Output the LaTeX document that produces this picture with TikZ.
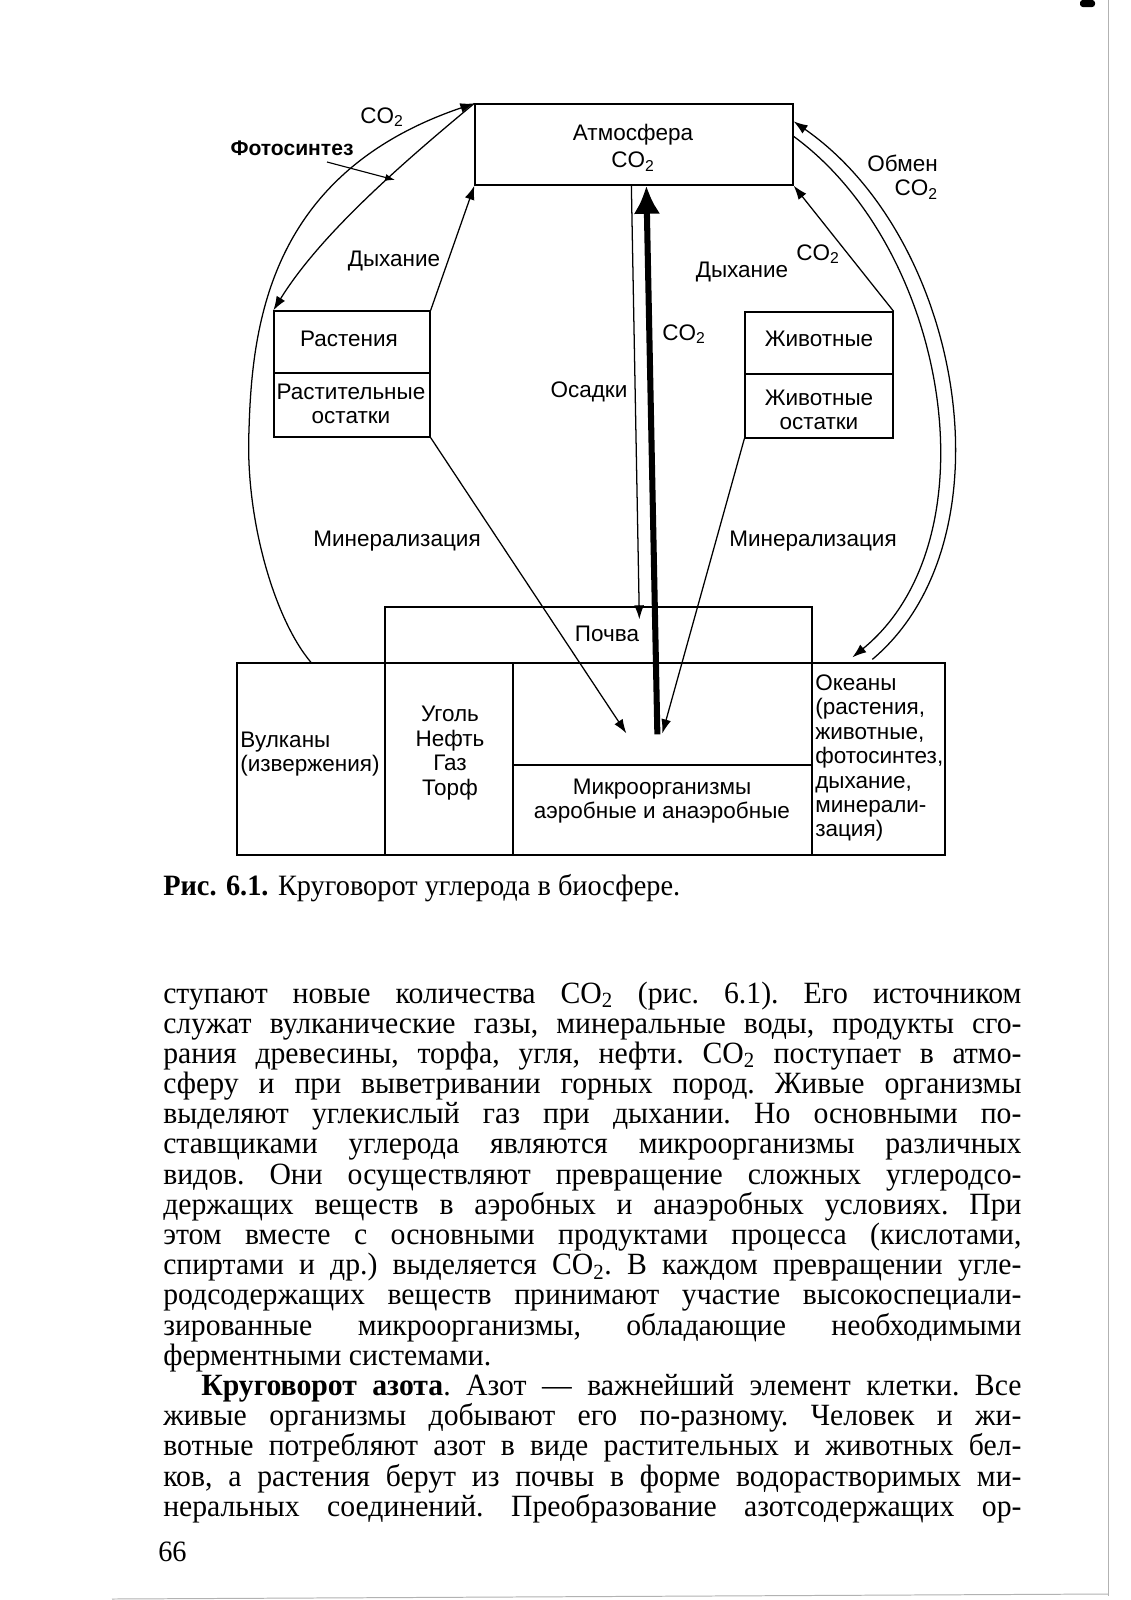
\documentclass[tikz,border=0pt]{standalone}
\usepackage{fontspec}
\setmainfont{Liberation Serif}[FakeStretch=0.96]
\newfontfamily\diagfont{Liberation Sans}
\usetikzlibrary{arrows.meta,calc,fit}

\tikzset{
  box/.style={draw, line width=0.9pt, inner sep=0pt},
  arr/.style={line width=0.9pt, -{Latex[length=10pt,width=7pt]}},
  thinarr/.style={line width=0.8pt, -{Latex[length=7pt,width=5pt]}},
  bigarr/.style={line width=4.3pt, -{Latex[length=20pt,width=19pt]}},
  lbl/.style={inner sep=0pt, align=center},
  textblock/.style={anchor=base west, inner sep=0pt},
}

\begin{document}
\begin{tikzpicture}[x=0.025cm, y=-0.025cm,
    font=\diagfont\fontsize{16}{17.4}\selectfont]
  \useasboundingbox (0,0) rectangle (1131,1600);
  \fill[white] (0,0) rectangle (1131,1600);

  % boxes
  \node[box, fit={(475,104) (793,185)}] (atm) {};
  \node[lbl] (atmlbl) at (633,148) {Атмосфера\\[2pt]CO\textsubscript{2}};
  \node[box, fit={(274,311) (430,373)}] (plants) {};
  \node[lbl] (plantslbl) at (349,339) {Растения};
  \node[box, fit={(274,373) (430,437)}] (plantrem) {};
  \node[lbl] (plantremlbl) at (351,404) {Растительные\\остатки};
  \node[box, fit={(745,312) (893,374)}] (anim) {};
  \node[lbl] (animlbl) at (819,339) {Животные};
  \node[box, fit={(745,374) (893,438)}] (animrem) {};
  \node[lbl] (animremlbl) at (819,410) {Животные\\остатки};
  \node[box, fit={(385,607) (812,663)}] (soil) {};
  \node[lbl] (soillbl) at (607,634) {Почва};
  \node[box, fit={(237,663) (385,855)}] (vulk) {};
  \node[lbl, align=left, anchor=west] (vulklbl) at (240,754) {Вулканы\\(извержения)};
  \node[box, fit={(385,663) (513,855)}] (coal) {};
  \node[lbl] (coallbl) at (450,753) {Уголь\\Нефть\\Газ\\Торф};
  \node[box, fit={(513,663) (812,765)}] (microtop) {};
  \node[box, fit={(513,765) (812,855)}] (micro) {};
  \node[lbl] (microlbl) at (662,801) {Микроорганизмы\\аэробные и анаэробные};
  \node[box, fit={(812,663) (945,855)}] (ocean) {};
  \node[lbl, align=left, anchor=west] (oceanlbl) at (815,758)
    {Океаны\\(растения,\\животные,\\фотосинтез,\\дыхание,\\минерали-\\зация)};

  % free ends
  \coordinate (minL) at ($(microtop.north west)+(114,71)$);
  \coordinate (minR) at ($(microtop.north west)+(150,71)$);
  \coordinate (co2bot) at ($(microtop.north west)+(145,72)$);
  \coordinate (rain) at ($(soil.north west)+(255,13)$);
  \coordinate (oceanin) at ($(ocean.north west)+(41,-5)$);
  \coordinate (oceanout) at ($(ocean.north west)+(61,-3)$);
  \coordinate (bulge) at (249,430);
  \coordinate (fotoA) at (327,162);
  \coordinate (fotoB) at (395,180);

  % left side
  \draw[arr] (vulk.north) .. controls (275,620) and (245,520) .. (bulge)
    .. controls (252,320) and (272,172) .. (atm.north west);
  \draw[arr] (atm.north west) .. controls (400,165) and (320,235) .. (plants.north west);
  \draw[arr] (plants.north east) -- (atm.south west);
  \draw[thinarr] (fotoA) -- (fotoB);

  % right side
  \draw[arr] (anim.north east) -- (atm.south east);
  \draw[arr] (oceanout) .. controls (1014,540) and (964,240) .. ($(atm.north east)+(0,18)$);
  \draw[arr] ($(atm.north east)+(0,33)$) .. controls (949,250) and (996,540) .. (oceanin);

  % middle
  \draw[arr] ($(atm.south west)+(157,0)$) -- (rain);
  \draw[bigarr] (co2bot) -- ($(atm.south west)+(172,0)$);
  \draw[arr] (plantrem.south east) -- (minL);
  \draw[arr] (animrem.south west) -- (minR);

  % labels
  \node[lbl] (co2a) at (382,117) {CO\textsubscript{2}};
  \node[lbl, font=\diagfont\bfseries\fontsize{15}{17}\selectfont] (foto) at (292,148) {Фотосинтез};
  \node[lbl] (breathL) at (394,261) {Дыхание};
  \node[lbl] (breathR) at (742,272) {Дыхание};
  \node[lbl] (co2b) at (818,254) {CO\textsubscript{2}};
  \node[lbl] (co2c) at (684,334) {CO\textsubscript{2}};
  \node[lbl] (rainlbl) at (589,392) {Осадки};
  \node[lbl] (minlblL) at (397,541) {Минерализация};
  \node[lbl] (minlblR) at (813,541) {Минерализация};
  \node[lbl, align=right, anchor=east] (exch) at (938,177) {Обмен\\CO\textsubscript{2}};

  % caption and page text
  \node[textblock, font=\rmfamily\fontsize{21}{22}\selectfont] (caption) at (163,895)
    {\textbf{Рис. 6.1.} Круговорот углерода в биосфере.};
  \node[textblock, font=\rmfamily\fontsize{22}{21.47}\selectfont] (body) at (163,1003)
    {\parbox[t]{21.45cm}{\fontsize{22}{21.47}\selectfont\frenchspacing
      \setlength{\parindent}{0.95cm}\tolerance=10000 \hyphenpenalty=10000 \exhyphenpenalty=10000
      \noindent ступают новые количества CO\textsubscript{2} (рис. 6.1). Его источником\linebreak
      служат вулканические газы, минеральные воды, продукты сго-\linebreak
      рания древесины, торфа, угля, нефти. CO\textsubscript{2} поступает в атмо-\linebreak
      сферу и при выветривании горных пород. Живые организмы\linebreak
      выделяют углекислый газ при дыхании. Но основными по-\linebreak
      ставщиками углерода являются микроорганизмы различных\linebreak
      видов. Они осуществляют превращение сложных углеродсо-\linebreak
      держащих веществ в аэробных и анаэробных условиях. При\linebreak
      этом вместе с основными продуктами процесса (кислотами,\linebreak
      спиртами и др.) выделяется CO\textsubscript{2}. В каждом превращении угле-\linebreak
      родсодержащих веществ принимают участие высокоспециали-\linebreak
      зированные микроорганизмы, обладающие необходимыми\linebreak
      ферментными системами.\par
      {\parfillskip=0pt \textbf{Круговорот азота}. Азот — важнейший элемент клетки. Все\linebreak
      живые организмы добывают его по-разному. Человек и жи-\linebreak
      вотные потребляют азот в виде растительных и животных бел-\linebreak
      ков, а растения берут из почвы в форме водорастворимых ми-\linebreak
      неральных соединений. Преобразование азотсодержащих ор-\par}}};
  \node[textblock, font=\rmfamily\fontsize{21}{22}\selectfont] (pageno) at (158,1561) {66};

  % scan edges
  \draw[gray!60, line width=0.5pt] (1108,0) -- (1108,1596);
  \draw[gray!60, line width=0.7pt] (112,1599) -- (1108,1594);
  \fill[black, rounded corners=2pt] (1080,0) rectangle (1095,7);
\end{tikzpicture}
\end{document}
